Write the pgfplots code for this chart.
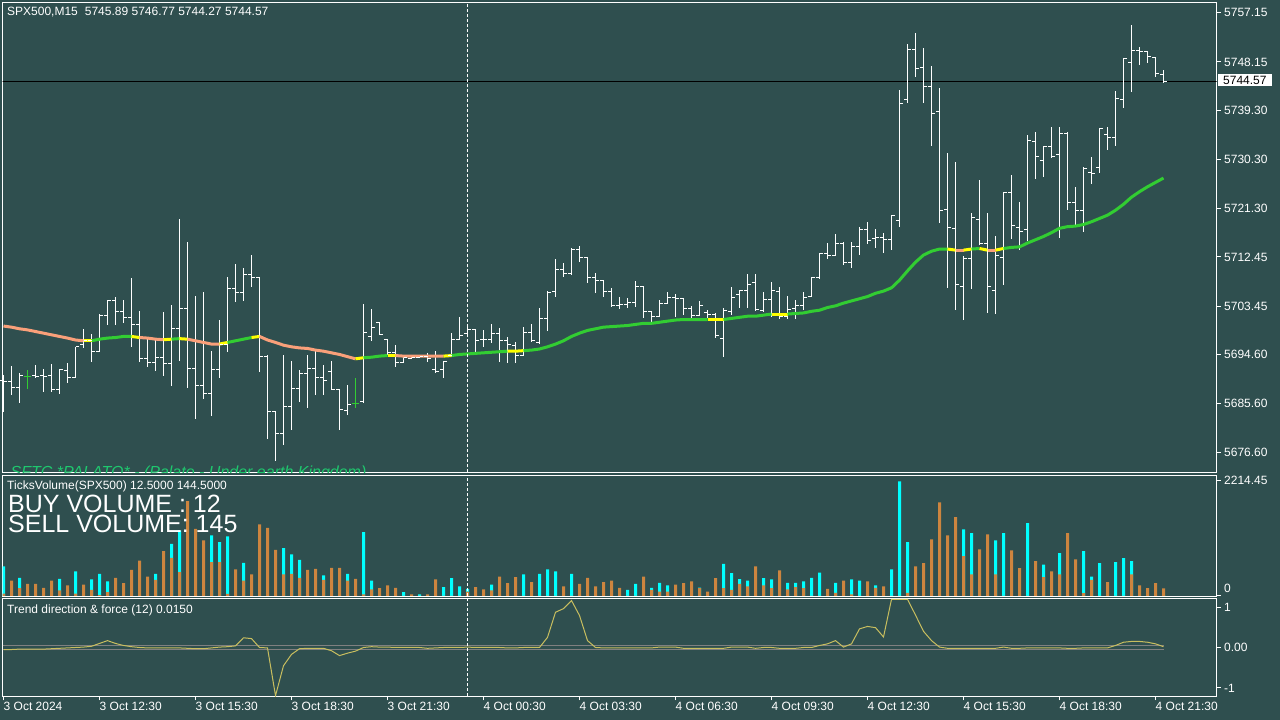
\documentclass[border=0pt]{standalone}
\usepackage{pgfplots}
\pgfplotsset{compat=1.18}
\usepackage{pgfplotstable}
\usepackage{fontspec}
\setmainfont{Liberation Sans}

\definecolor{bg}{RGB}{47,79,79}
\definecolor{vbuy}{RGB}{0,255,255}
\definecolor{vsell}{RGB}{205,133,63}
\definecolor{masal}{RGB}{250,160,122}
\definecolor{magrn}{RGB}{50,205,50}
\definecolor{mayel}{RGB}{255,255,0}
\definecolor{trendc}{RGB}{200,190,95}
\definecolor{lvl}{RGB}{128,128,128}
\definecolor{palato}{RGB}{30,200,110}

\pgfdeclareplotmark{otick}{\pgfpathmoveto{\pgfqpoint{-3.5pt}{0pt}}\pgfpathlineto{\pgfqpoint{0pt}{0pt}}\pgfusepathqstroke}
\pgfdeclareplotmark{ctick}{\pgfpathmoveto{\pgfqpoint{0pt}{0pt}}\pgfpathlineto{\pgfqpoint{3.5pt}{0pt}}\pgfusepathqstroke}

\newcommand{\fs}{\fontsize{12}{14}\selectfont}
\newcommand{\bigfs}{\fontsize{25}{20}\selectfont}

\pgfplotstableread{
i O H L C
0 5689.9 5690.8 5684.1 5689.7
1 5689.7 5692.5 5687.2 5688.6
2 5688.6 5691.2 5685.7 5690.8
3 5690.5 5691.8 5688.3 5690.5
4 5690.7 5692.7 5690.3 5690.5
5 5690.7 5691.9 5687.7 5690.6
6 5690.7 5692.9 5687.7 5688.1
7 5688.1 5691.9 5687.4 5691.8
8 5691.6 5693.0 5689.4 5690.3
9 5690.3 5696.0 5690.2 5696.0
10 5696.5 5699.3 5695.8 5697.1
11 5697.1 5698.3 5693.2 5695.2
12 5695.2 5702.0 5695.0 5701.8
13 5701.8 5704.6 5700.0 5704.4
14 5704.4 5705.1 5700.0 5702.4
15 5702.4 5704.6 5700.4 5701.3
16 5701.3 5708.6 5696.0 5700.0
17 5700.0 5702.6 5693.2 5693.8
18 5693.8 5697.6 5692.3 5693.2
19 5693.2 5697.6 5691.6 5694.1
20 5694.1 5702.4 5690.7 5693.0
21 5693.0 5703.7 5688.8 5699.3
22 5699.3 5719.4 5693.4 5703.1
23 5703.1 5715.2 5688.5 5692.1
24 5692.1 5705.3 5682.8 5689.0
25 5689.0 5706.0 5686.4 5687.4
26 5687.4 5695.2 5683.3 5691.9
27 5691.9 5700.9 5690.3 5696.5
28 5696.5 5708.8 5695.0 5706.6
29 5706.6 5711.2 5704.2 5706.0
30 5706.0 5710.4 5704.4 5709.3
31 5709.3 5712.8 5707.0 5708.6
32 5708.6 5708.8 5691.4 5694.3
33 5694.3 5694.5 5679.1 5684.1
34 5684.1 5684.2 5675.1 5680.2
35 5680.2 5694.5 5678.0 5685.0
36 5685.0 5693.4 5680.8 5688.3
37 5688.3 5691.8 5685.9 5691.2
38 5691.2 5694.5 5684.8 5692.1
39 5692.1 5695.4 5687.2 5690.3
40 5690.3 5692.7 5687.2 5689.9
41 5691.4 5693.4 5688.1 5688.1
42 5688.1 5688.2 5680.8 5684.6
43 5684.4 5689.0 5683.5 5685.5
44 5685.7 5690.3 5684.8 5685.7
45 5685.9 5703.8 5685.7 5698.7
46 5697.8 5702.9 5697.1 5699.6
47 5700.4 5700.5 5698.2 5698.3
48 5697.4 5697.5 5694.5 5694.9
49 5694.9 5696.3 5692.3 5693.2
50 5693.2 5694.5 5693.0 5694.1
51 5693.9 5694.5 5693.8 5694.1
52 5694.1 5694.5 5693.9 5694.3
53 5694.3 5694.9 5693.2 5693.9
54 5691.8 5695.2 5691.2 5691.4
55 5691.8 5693.4 5690.3 5693.4
56 5694.5 5698.5 5694.1 5697.4
57 5697.4 5701.5 5697.2 5698.0
58 5698.5 5699.6 5697.8 5699.1
59 5699.1 5699.3 5695.0 5697.1
60 5697.4 5699.1 5696.0 5697.3
61 5697.4 5700.2 5696.7 5698.5
62 5698.5 5699.4 5693.2 5697.1
63 5697.1 5697.8 5693.0 5696.5
64 5696.3 5696.9 5693.0 5694.5
65 5694.5 5699.6 5694.3 5698.7
66 5698.7 5700.2 5696.9 5697.2
67 5696.7 5703.1 5696.5 5701.1
68 5701.1 5706.2 5698.9 5706.0
69 5706.2 5712.1 5705.1 5710.1
70 5710.1 5711.3 5708.8 5709.5
71 5709.5 5714.1 5709.2 5713.9
72 5713.9 5714.5 5711.5 5712.4
73 5712.4 5712.5 5707.7 5708.6
74 5708.6 5709.5 5705.9 5708.2
75 5708.2 5708.3 5705.1 5706.2
76 5706.2 5706.8 5703.3 5703.5
77 5703.5 5705.1 5702.9 5703.7
78 5703.7 5704.9 5703.1 5704.2
79 5704.2 5708.0 5703.3 5707.0
80 5707.0 5707.1 5701.3 5702.4
81 5702.4 5702.6 5700.5 5701.6
82 5701.6 5704.6 5701.5 5704.0
83 5704.0 5706.0 5703.8 5705.1
84 5705.1 5705.7 5701.5 5704.9
85 5704.9 5705.0 5701.8 5703.1
86 5703.1 5703.4 5701.3 5701.8
87 5701.8 5704.4 5701.6 5703.5
88 5702.2 5702.8 5701.3 5702.0
89 5702.0 5702.1 5697.6 5698.0
90 5697.6 5703.1 5694.1 5702.6
91 5702.4 5707.0 5701.8 5705.1
92 5705.5 5706.4 5703.1 5706.3
93 5706.4 5709.3 5703.1 5707.5
94 5707.7 5709.3 5702.6 5702.9
95 5702.7 5706.0 5702.4 5704.6
96 5704.6 5707.9 5701.5 5706.4
97 5706.2 5707.0 5701.1 5701.5
98 5701.5 5705.3 5701.1 5702.9
99 5703.1 5704.6 5701.1 5703.5
100 5703.5 5706.0 5702.7 5705.1
101 5705.3 5708.8 5705.1 5708.6
102 5708.6 5713.2 5708.4 5713.0
103 5713.0 5715.0 5712.1 5712.8
104 5712.8 5716.7 5712.7 5715.0
105 5715.0 5715.1 5711.0 5711.5
106 5711.5 5715.2 5710.4 5714.3
107 5714.3 5717.9 5712.8 5717.4
108 5717.4 5718.9 5714.8 5715.4
109 5715.9 5717.6 5714.1 5716.0
110 5716.0 5716.8 5713.2 5715.6
111 5715.6 5720.1 5713.7 5720.0
112 5719.2 5743.0 5717.9 5740.5
113 5741.2 5751.4 5740.6 5750.5
114 5750.5 5753.5 5745.4 5747.0
115 5747.2 5750.7 5740.6 5743.6
116 5743.6 5747.4 5732.8 5738.8
117 5739.0 5743.4 5718.7 5721.0
118 5721.2 5731.5 5706.8 5717.8
119 5717.6 5729.8 5702.7 5707.5
120 5707.1 5712.6 5700.9 5712.1
121 5712.1 5720.5 5706.6 5719.6
122 5719.4 5726.5 5714.8 5714.9
123 5715.0 5720.5 5702.2 5707.0
124 5706.4 5716.3 5702.0 5712.8
125 5712.4 5724.3 5707.3 5724.2
126 5724.2 5727.5 5715.7 5718.3
127 5717.9 5722.5 5713.7 5717.2
128 5717.4 5734.8 5715.4 5733.7
129 5733.5 5735.3 5726.7 5730.8
130 5730.2 5732.8 5727.1 5732.6
131 5732.6 5736.2 5730.6 5730.9
132 5731.3 5736.2 5715.9 5735.1
133 5735.1 5735.3 5721.0 5722.5
134 5722.5 5725.3 5718.3 5721.0
135 5720.9 5728.9 5717.0 5728.6
136 5728.0 5730.8 5725.8 5727.8
137 5728.9 5736.1 5727.8 5736.0
138 5734.8 5736.2 5732.0 5734.4
139 5734.4 5742.8 5732.8 5741.4
140 5741.2 5748.9 5739.7 5748.8
141 5748.1 5754.9 5742.7 5750.3
142 5750.2 5750.9 5747.6 5750.1
143 5750.0 5750.2 5748.0 5749.1
144 5748.9 5749.0 5745.4 5746.1
145 5745.89 5746.77 5744.27 5744.57
}\ohlc

\pgfplotstableread{
i O H L C
3 5690.5 5691.8 5688.3 5690.5
44 5685.7 5690.3 5684.8 5685.7
}\doji

\pgfplotstableread{
i ma
0 5699.8
1 5699.6
2 5699.3
3 5699.1
4 5698.8
5 5698.5
6 5698.2
7 5697.9
8 5697.6
9 5697.25
10 5697.1
11 5697.1
12 5697.4
13 5697.6
14 5697.7
15 5697.9
16 5697.9
17 5697.7
18 5697.6
19 5697.4
20 5697.3
21 5697.4
22 5697.5
23 5697.4
24 5697.1
25 5696.8
26 5696.5
27 5696.5
28 5696.8
29 5697.1
30 5697.4
31 5697.7
32 5697.9
33 5697.25
34 5696.8
35 5696.3
36 5696.0
37 5695.8
38 5695.7
39 5695.4
40 5695.2
41 5694.9
42 5694.6
43 5694.2
44 5693.8
45 5694.0
46 5694.1
47 5694.3
48 5694.4
49 5694.4
50 5694.3
51 5694.3
52 5694.3
53 5694.3
54 5694.3
55 5694.3
56 5694.4
57 5694.6
58 5694.7
59 5694.8
60 5694.9
61 5695.0
62 5695.1
63 5695.2
64 5695.2
65 5695.3
66 5695.4
67 5695.6
68 5696.0
69 5696.5
70 5697.1
71 5697.9
72 5698.5
73 5699.0
74 5699.3
75 5699.6
76 5699.7
77 5699.8
78 5699.9
79 5700.1
80 5700.3
81 5700.3
82 5700.5
83 5700.7
84 5700.9
85 5701.0
86 5701.0
87 5701.0
88 5701.0
89 5701.0
90 5701.0
91 5701.2
92 5701.4
93 5701.6
94 5701.6
95 5701.8
96 5702.0
97 5702.0
98 5702.0
99 5702.1
100 5702.2
101 5702.5
102 5702.7
103 5703.2
104 5703.5
105 5704.0
106 5704.4
107 5704.8
108 5705.2
109 5705.8
110 5706.2
111 5706.8
112 5708.2
113 5709.9
114 5711.5
115 5712.8
116 5713.5
117 5713.9
118 5713.9
119 5713.7
120 5713.7
121 5713.9
122 5714.0
123 5713.7
124 5713.7
125 5714.0
126 5714.2
127 5714.3
128 5715.0
129 5715.6
130 5716.2
131 5716.9
132 5717.7
133 5718.0
134 5718.1
135 5718.4
136 5718.9
137 5719.5
138 5720.1
139 5721.0
140 5722.1
141 5723.4
142 5724.4
143 5725.3
144 5726.1
145 5726.9
}\matab

\pgfplotstableread{
i b s
0 565 40
1 0 295
2 347 148
3 0 231
4 0 231
5 0 154
6 0 295
7 327 103
8 0 199
9 469 40
10 0 218
11 315 116
12 424 13
13 276 70
14 0 347
15 0 244
16 0 501
17 0 680
18 0 372
19 424 308
20 0 860
21 1002 732
22 1258 456
23 0 1823
24 0 1290
25 0 1066
26 1162 648
27 1034 648
28 1143 39
29 0 507
30 636 295
31 0 411
32 0 1374
33 0 1310
34 0 886
35 918 411
36 796 424
37 693 347
38 0 501
39 0 520
40 392 308
41 0 539
42 0 539
43 424 295
44 0 327
45 1226 26
46 295 122
47 0 148
48 0 199
49 0 154
50 71 0
51 0 26
52 26 0
53 0 26
54 0 315
55 167 0
56 340 0
57 180 0
58 135 83
59 0 167
60 0 122
61 218 103
62 0 372
63 0 244
64 0 360
65 411 0
66 0 263
67 424 0
68 507 0
69 469 0
70 0 180
71 424 0
72 0 231
73 0 347
74 0 180
75 0 263
76 0 295
77 0 154
78 116 0
79 231 0
80 0 372
81 154 116
82 250 83
83 199 83
84 0 218
85 0 244
86 0 276
87 160 148
88 0 83
89 0 340
90 616 148
91 437 116
92 321 231
93 295 180
94 0 565
95 340 199
96 315 148
97 0 488
98 250 122
99 250 167
100 276 148
101 347 0
102 449 0
103 0 135
104 250 58
105 0 295
106 315 26
107 295 0
108 0 276
109 199 154
110 0 180
111 507 0
112 2202 0
113 1034 58
114 0 565
115 0 629
116 0 1085
117 0 1798
118 0 1162
119 0 1515
120 1278 764
121 1207 411
122 0 892
123 0 1181
124 1066 411
125 1207 0
126 0 873
127 0 533
128 1400 0
129 0 668
130 603 360
131 0 469
132 822 411
133 0 1207
134 0 700
135 860 51
136 372 308
137 629 0
138 0 263
139 648 0
140 725 0
141 668 411
142 0 199
143 0 148
144 0 244
145 12.5 144.5
}\vol

\pgfplotstableread{
i t
0 -0.05
1 -0.05
2 -0.04
3 -0.04
4 -0.04
5 -0.04
6 -0.03
7 -0.02
8 -0.01
9 0.00
10 0.01
11 0.03
12 0.10
13 0.17
14 0.10
15 0.05
16 0.02
17 0.00
18 -0.01
19 -0.01
20 -0.01
21 -0.01
22 -0.01
23 -0.02
24 -0.03
25 -0.03
26 -0.01
27 0.01
28 0.02
29 0.04
30 0.24
31 0.22
32 0.00
33 -0.01
34 -1.19
35 -0.45
36 -0.17
37 -0.03
38 -0.02
39 -0.02
40 -0.02
41 -0.08
42 -0.20
43 -0.14
44 -0.09
45 0.00
46 0.02
47 0.01
48 0.01
49 0.00
50 0.00
51 0.00
52 0.00
53 -0.02
54 -0.01
55 0.00
56 0.00
57 0.00
58 0.01
59 0.00
60 0.00
61 0.00
62 0.00
63 -0.01
64 -0.01
65 0.00
66 0.00
67 0.00
68 0.25
69 0.87
70 0.96
71 1.16
72 0.79
73 0.17
74 0.00
75 -0.01
76 -0.01
77 -0.01
78 -0.01
79 -0.01
80 -0.01
81 -0.01
82 0.01
83 0.01
84 0.01
85 -0.02
86 -0.02
87 -0.02
88 -0.02
89 -0.02
90 -0.02
91 0.01
92 0.01
93 0.01
94 -0.02
95 0.00
96 0.00
97 -0.02
98 -0.02
99 -0.02
100 0.00
101 0.00
102 0.05
103 0.09
104 0.17
105 0.01
106 0.09
107 0.46
108 0.52
109 0.49
110 0.26
111 1.19
112 1.19
113 1.19
114 0.80
115 0.40
116 0.17
117 0.01
118 -0.02
119 -0.02
120 -0.02
121 -0.02
122 -0.02
123 -0.02
124 -0.02
125 0.01
126 -0.02
127 -0.02
128 -0.01
129 -0.01
130 -0.01
131 -0.01
132 -0.01
133 -0.02
134 -0.02
135 -0.01
136 -0.01
137 -0.01
138 -0.01
139 0.05
140 0.13
141 0.15
142 0.15
143 0.13
144 0.09
145 0.02
}\trend

\newcommand{\maseg}[3]{\addplot[#1, line width=3pt, restrict x to domain=#2:#3] table[x=i,y=ma]{\matab};}
\newcommand{\vsep}[1]{\draw[white, line width=1pt, dash pattern=on 3pt off 2pt] ({axis cs:58,#1} |- {rel axis cs:0,0}) -- ({axis cs:58,#1} |- {rel axis cs:0,1});}

\pgfplotsset{mt/.style={
  scale only axis, width=1214pt, anchor=south west,
  axis line style={white, line width=1pt},
  tick style={white, line width=1pt},
  tick align=outside, major tick length=4pt,
  xmin=-0.125, xmax=151.625,
  xtick=\empty,
  ytick pos=right, yticklabel pos=right,
  yticklabel style={font=\fs, text=white, anchor=west, inner sep=0pt, xshift=3.5pt},
}}

\begin{document}
\begin{tikzpicture}
\fill[bg] (0,0) rectangle (1280pt,720pt);

% ---------- main price panel ----------
\begin{axis}[mt, at={(2.5pt,247.5pt)}, height=470pt,
  ymin=5672.99, ymax=5759.04,
  ytick={5676.60,5685.60,5694.60,5703.45,5712.45,5721.30,5730.30,5739.30,5748.15,5757.15},
  yticklabels={5676.60,5685.60,5694.60,5703.45,5712.45,5721.30,5730.30,5739.30,5748.15,5757.15}]
\addplot[black, line width=1pt] coordinates {(-1,5744.57) (152,5744.57)};
\addplot[only marks, mark=ctick, mark options={white, line width=1pt},
  error bars/.cd, y dir=both, y explicit, error mark=none,
  error bar style={white, line width=1pt}]
  table[x=i, y=C, y error plus expr=\thisrow{H}-\thisrow{C}, y error minus expr=\thisrow{C}-\thisrow{L}] {\ohlc};
\addplot[only marks, mark=otick, mark options={white, line width=1pt}] table[x=i, y=O] {\ohlc};
\addplot[only marks, mark=ctick, mark options={magrn, line width=1pt},
  error bars/.cd, y dir=both, y explicit, error mark=none,
  error bar style={magrn, line width=1pt}]
  table[x=i, y=C, y error plus expr=\thisrow{H}-\thisrow{C}, y error minus expr=\thisrow{C}-\thisrow{L}] {\doji};
\addplot[only marks, mark=otick, mark options={magrn, line width=1pt}] table[x=i, y=O] {\doji};
\maseg{masal}{0}{10}
\maseg{mayel}{10}{11}
\maseg{magrn}{11}{16}
\maseg{mayel}{16}{17}
\maseg{masal}{17}{20}
\maseg{mayel}{20}{21}
\maseg{magrn}{21}{22}
\maseg{mayel}{22}{23}
\maseg{masal}{23}{27}
\maseg{mayel}{27}{28}
\maseg{magrn}{28}{31}
\maseg{mayel}{31}{32}
\maseg{masal}{32}{44}
\maseg{mayel}{44}{45}
\maseg{magrn}{45}{48}
\maseg{mayel}{48}{49}
\maseg{masal}{49}{55}
\maseg{mayel}{55}{56}
\maseg{magrn}{56}{63}
\maseg{mayel}{63}{65}
\maseg{magrn}{65}{88}
\maseg{mayel}{88}{90}
\maseg{magrn}{90}{96}
\maseg{mayel}{96}{98}
\maseg{magrn}{98}{118}
\maseg{mayel}{118}{119}
\maseg{masal}{119}{120}
\maseg{mayel}{120}{121}
\maseg{magrn}{121}{122}
\maseg{mayel}{122}{123}
\maseg{masal}{123}{124}
\maseg{mayel}{124}{125}
\maseg{magrn}{125}{145}
\vsep{5700}
\node[anchor=base west, inner sep=0pt, text=palato, font=\fontsize{16}{18}\selectfont\itshape, xshift=8pt, yshift=-5pt] at (rel axis cs:0,0) {SFTC *PALATO* - (Palato - Under earth Kingdom)};
\end{axis}

% ---------- volume panel ----------
\begin{axis}[mt, at={(2.5pt,123.5pt)}, height=121pt,
  ymin=-13, ymax=2317,
  ytick={2214.45}, yticklabels={2214.45},
  extra y ticks={0}, extra y tick labels={0},
  extra y tick style={yticklabel style={yshift=7pt}}]
\addplot[ybar, bar width=3pt, bar shift=0pt, fill=vbuy, draw=none] table[x=i, y=b] {\vol};
\addplot[ybar, bar width=3pt, bar shift=0pt, fill=vsell, draw=none] table[x=i, y=s] {\vol};
\vsep{500}
\end{axis}

% ---------- trend panel ----------
\begin{axis}[mt, at={(2.5pt,23.5pt)}, height=98pt,
  ymin=-1.21, ymax=1.21,
  ytick={-1,0,1}, yticklabels={-1,0.00,1},
  xtick={0,12,24,36,48,60,72,84,96,108,120,132,144},
  xticklabels={3 Oct 2024,3 Oct 12:30,3 Oct 15:30,3 Oct 18:30,3 Oct 21:30,4 Oct 00:30,4 Oct 03:30,4 Oct 06:30,4 Oct 09:30,4 Oct 12:30,4 Oct 15:30,4 Oct 18:30,4 Oct 21:30},
  xtick pos=bottom,
  xticklabel style={font=\fs, text=white, anchor=north west, inner sep=0pt, yshift=-1pt}]
\addplot[lvl, line width=1pt] coordinates {(-0.125,0.06) (145,0.06)};
\addplot[lvl, line width=1pt] coordinates {(-0.125,-0.06) (145,-0.06)};
\addplot[trendc, line width=1pt] table[x=i, y=t] {\trend};
\vsep{0}
\end{axis}

% ---------- texts ----------
\node[anchor=west, inner sep=0pt, text=white, font=\fs] at (7pt,708pt) {SPX500,M15\hspace{7pt}5745.89 5746.77 5744.27 5744.57};
\node[anchor=west, inner sep=0pt, text=white, font=\fs] at (7pt,234pt) {TicksVolume(SPX500) 12.5000 144.5000};
\node[anchor=west, inner sep=0pt, text=white, font=\bigfs, align=left] at (8pt,206pt) {BUY VOLUME : 12\\SELL VOLUME: 145};
\node[anchor=west, inner sep=0pt, text=white, font=\fs] at (7pt,110pt) {Trend direction \& force (12) 0.0150};
\node[anchor=west, fill=white, text=black, font=\fs, inner xsep=5pt, inner ysep=2pt] at (1218pt,640pt) {5744.57};

\pgfresetboundingbox
\useasboundingbox (0,0) rectangle (1280pt,720pt);
\end{tikzpicture}
\end{document}
